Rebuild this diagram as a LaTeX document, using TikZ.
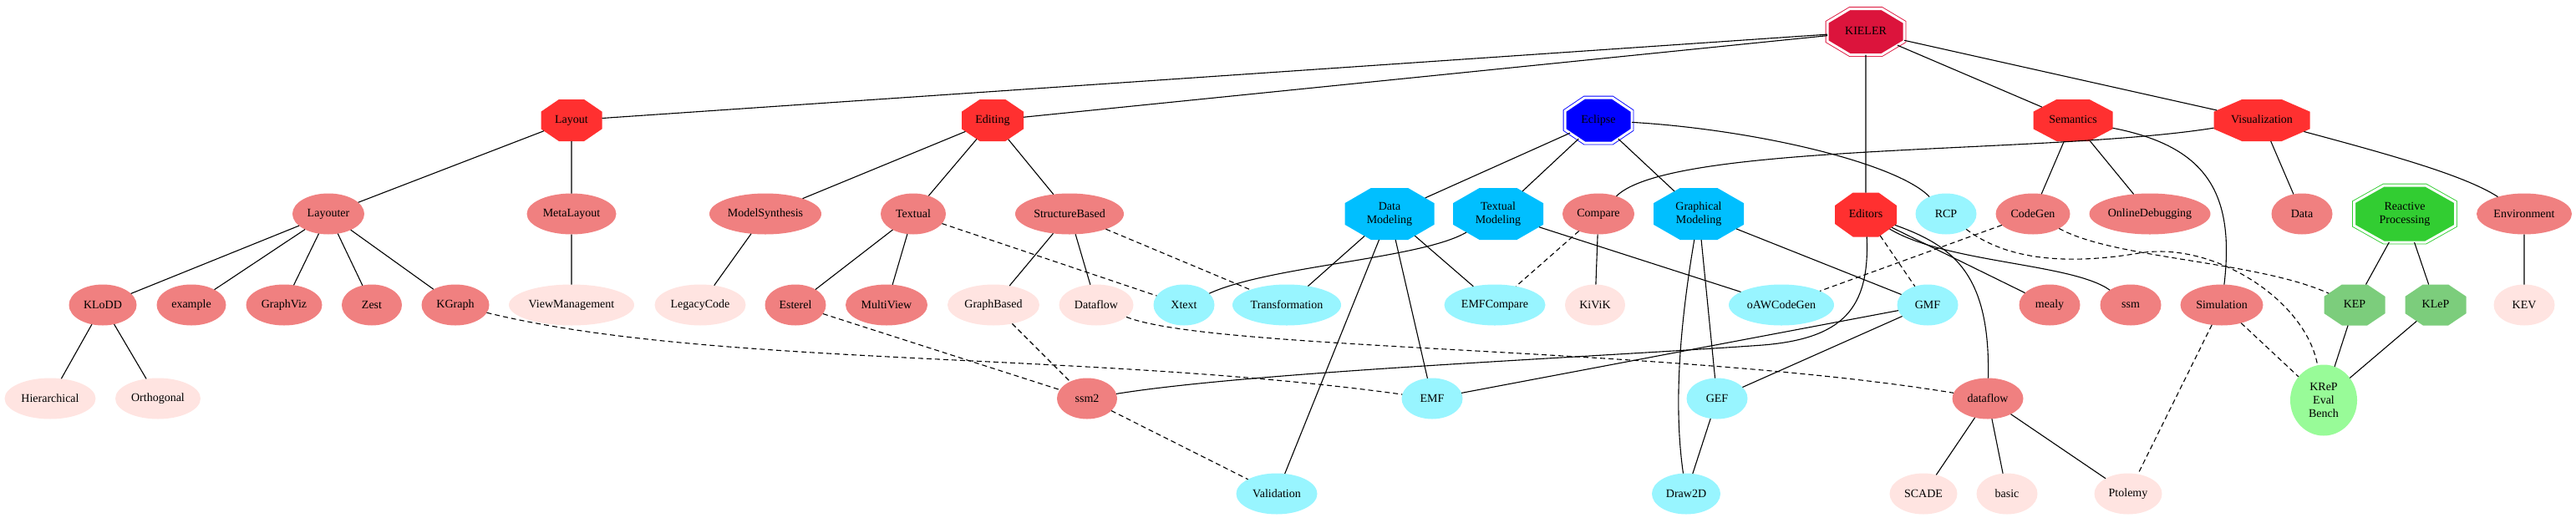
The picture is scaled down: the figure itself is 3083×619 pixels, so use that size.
\documentclass[tikz,border=0pt]{standalone}
\usepackage{fontspec}
\setmainfont{Liberation Serif}
\usetikzlibrary{shapes.geometric}
\definecolor{kred}{HTML}{FF3030}
\definecolor{kcrimson}{HTML}{DC143C}
\definecolor{kblue}{HTML}{0000FF}
\definecolor{ksky}{HTML}{00BFFF}
\definecolor{kcyan}{HTML}{98F5FF}
\definecolor{kcoral}{HTML}{F08080}
\definecolor{krose}{HTML}{FFE4E1}
\definecolor{klime}{HTML}{32CD32}
\definecolor{kgreen}{HTML}{7CCD7C}
\definecolor{kpale}{HTML}{98FB98}
\newcommand{\octtext}[1]{\scalebox{\octsq}[1]{\begin{tabular}{@{}c@{}}#1\end{tabular}}}
\tikzset{
	kbox/.style={inner sep=0pt, outer sep=0pt, minimum height=49pt, align=center, font=\fontsize{14}{16}\selectfont},
	ell/.style={kbox, ellipse, fill=#1},
	oct/.style={kbox, regular polygon, regular polygon sides=8, fill=#1},
	octsize/.style 2 args={minimum size={#2pt/0.9239}, xscale=#1/#2, /utils/exec={\pgfmathsetmacro\octsq{#2/#1}}},
	dbl/.style={oct=#1, draw=#1, line width=0.9pt, double=white, double distance=3pt},
	wd/.style={minimum width=#1pt},
	dep/.style={dash pattern=on 6pt off 4pt}
}
\begin{document}
\begin{tikzpicture}[x=1pt,y=-1pt,line width=1.1pt]
	\useasboundingbox (0,0) rectangle (3083,619);
	\node[dbl=kcrimson, octsize={92}{55}] (kieler) at (2233,38) {\octtext{KIELER}};
	\node[oct=kred, octsize={73}{50}] (layout) at (684,144) {\octtext{Layout}};
	\node[oct=kred, octsize={74}{50}] (editing) at (1188,144) {\octtext{Editing}};
	\node[dbl=kblue, octsize={80}{54}] (eclipse) at (1913,144) {\octtext{Eclipse}};
	\node[oct=kred, octsize={95}{50}] (semantics) at (2481,144) {\octtext{Semantics}};
	\node[oct=kred, octsize={115}{50}] (visualization) at (2707,144) {\octtext{Visualization}};
	\node[ell=kcoral, wd=86] (layouter) at (393,256) {Layouter};
	\node[ell=kcoral, wd=107] (metalayout) at (684,256) {MetaLayout};
	\node[ell=kcoral, wd=134] (modelsynthesis) at (916,256) {ModelSynthesis};
	\node[ell=kcoral, wd=78] (textual) at (1093,256) {Textual};
	\node[ell=kcoral, wd=130] (structurebased) at (1280,256) {StructureBased};
	\node[oct=ksky, octsize={107}{62}] (datamodeling) at (1663,256) {\octtext{Data\\Modeling}};
	\node[oct=ksky, octsize={108}{62}] (textualmodeling) at (1793,256) {\octtext{Textual\\Modeling}};
	\node[ell=kcoral, wd=86] (compare) at (1913,256) {Compare};
	\node[oct=ksky, octsize={108}{62}] (graphicalmodeling) at (2033,256) {\octtext{Graphical\\Modeling}};
	\node[oct=kred, octsize={74}{53}] (editors) at (2233,257) {\octtext{Editors}};
	\node[ell=kcyan, wd=73] (rcp) at (2329,256) {RCP};
	\node[ell=kcoral, wd=89] (codegen) at (2433,256) {CodeGen};
	\node[ell=kcoral, wd=145] (onlinedebugging) at (2573,256) {OnlineDebugging};
	\node[ell=kcoral, wd=73] (data) at (2755,256) {Data};
	\node[dbl=klime, octsize={121}{68}] (reactive) at (2878,256) {\octtext{Reactive\\Processing}};
	\node[ell=kcoral, wd=114] (environment) at (3021,256) {Environment};
	\node[ell=kcoral, wd=81] (klodd) at (123,365) {KLoDD};
	\node[ell=kcoral, wd=83] (example) at (229,365) {example};
	\node[ell=kcoral, wd=91] (graphviz) at (340,365) {GraphViz};
	\node[ell=kcoral, wd=72] (zest) at (445,365) {Zest};
	\node[ell=kcoral, wd=81] (kgraph) at (545,365) {KGraph};
	\node[ell=krose, wd=150] (viewmanagement) at (684,365) {ViewManagement};
	\node[ell=krose, wd=109] (legacycode) at (838,365) {LegacyCode};
	\node[ell=kcoral, wd=73] (esterel) at (952,365) {Esterel};
	\node[ell=kcoral, wd=98] (multiview) at (1061,365) {MultiView};
	\node[ell=krose, wd=110] (graphbased) at (1189,365) {GraphBased};
	\node[ell=krose, wd=89] (dataflowup) at (1312,365) {Dataflow};
	\node[ell=kcyan, wd=73] (xtext) at (1417,365) {Xtext};
	\node[ell=kcyan, wd=130] (transformation) at (1540,365) {Transformation};
	\node[ell=kcyan, wd=121] (emfcompare) at (1789,365) {EMFCompare};
	\node[ell=krose, wd=72] (kivik) at (1909,365) {KiViK};
	\node[ell=kcyan, wd=126] (oawcodegen) at (2132,365) {oAWCodeGen};
	\node[ell=kcyan, wd=73] (gmf) at (2307,365) {GMF};
	\node[ell=kcoral, wd=73] (mealy) at (2453,365) {mealy};
	\node[ell=kcoral, wd=73] (ssm) at (2550,365) {ssm};
	\node[ell=kcoral, wd=99] (simulation) at (2659,365) {Simulation};
	\node[oct=kgreen, octsize={73}{49}] (kep) at (2818,365) {\octtext{KEP}};
	\node[oct=kgreen, octsize={73}{49}] (klep) at (2915,365) {\octtext{KLeP}};
	\node[ell=krose, wd=73] (kev) at (3021,365) {KEV};
	\node[ell=krose, wd=109] (hierarchical) at (60,477) {Hierarchical};
	\node[ell=krose, wd=102] (orthogonal) at (189,477) {Orthogonal};
	\node[ell=kcoral, wd=72] (ssmtwo) at (1301,477) {ssm2};
	\node[ell=kcyan, wd=73] (emf) at (1714,477) {EMF};
	\node[ell=kcyan, wd=73] (gef) at (2055,477) {GEF};
	\node[ell=kcoral, wd=85] (dataflowlow) at (2379,477) {dataflow};
	\node[ell=kpale, wd=80, minimum height=85pt] (krep) at (2781,479) {KReP\\Eval\\Bench};
	\node[ell=kcyan, wd=97] (validation) at (1528,591) {Validation};
	\node[ell=kcyan, wd=82] (draw2d) at (2018,591) {Draw2D};
	\node[ell=krose, wd=81] (scade) at (2302,591) {SCADE};
	\node[ell=krose, wd=73] (basic) at (2402,591) {basic};
	\node[ell=krose, wd=81] (ptolemy) at (2547,591) {Ptolemy};
	\draw (kieler) -- (layout) (kieler) -- (editing) (kieler) -- (semantics) (kieler) -- (visualization) (kieler) -- (editors);
	\draw (layout) -- (layouter) (layout) -- (metalayout) (metalayout) -- (viewmanagement);
	\draw (layouter) -- (klodd) (layouter) -- (example) (layouter) -- (graphviz) (layouter) -- (zest) (layouter) -- (kgraph);
	\draw (klodd) -- (hierarchical) (klodd) -- (orthogonal);
	\draw (editing) -- (modelsynthesis) (editing) -- (textual) (editing) -- (structurebased) (modelsynthesis) -- (legacycode);
	\draw (textual) -- (esterel) (textual) -- (multiview) (structurebased) -- (graphbased) (structurebased) -- (dataflowup);
	\draw (eclipse) -- (datamodeling) (eclipse) -- (textualmodeling) (eclipse) -- (graphicalmodeling);
	\draw (eclipse) .. controls (2100,155) and (2270,195) .. (rcp);
	\draw (datamodeling) -- (transformation) (datamodeling) -- (emfcompare) (datamodeling) -- (emf) (datamodeling) -- (validation);
	\draw (xtext) .. controls (1520,318) and (1700,310) .. (textualmodeling);
	\draw (textualmodeling) -- (oawcodegen) (compare) -- (kivik);
	\draw (compare) .. controls (2000,170) and (2450,185) .. (visualization);
	\draw (graphicalmodeling) -- (gmf) (graphicalmodeling) -- (gef) (gef) -- (draw2d) (gmf) -- (gef) (gmf) -- (emf);
	\draw (graphicalmodeling) .. controls (2012,380) and (2002,480) .. (draw2d);
	\draw (editors) .. controls (2238,370) and (2205,405) .. (2110,413) .. controls (1900,428) and (1500,445) .. (ssmtwo);
	\draw (editors) .. controls (2340,295) and (2382,330) .. (dataflowlow);
	\draw (editors) -- (mealy);
	\draw (editors) .. controls (2330,315) and (2480,315) .. (ssm);
	\draw (semantics) -- (codegen) (semantics) -- (onlinedebugging);
	\draw (semantics) .. controls (2640,175) and (2675,230) .. (simulation);
	\draw (visualization) -- (data) (environment) -- (kev);
	\draw (visualization) .. controls (2860,185) and (2950,210) .. (environment);
	\draw (reactive) -- (kep) (reactive) -- (klep) (kep) -- (krep) (klep) -- (krep);
	\draw (dataflowlow) -- (scade) (dataflowlow) -- (basic) (dataflowlow) -- (ptolemy);
	\draw[dep] (textual) -- (xtext) (structurebased) -- (transformation) (esterel) -- (ssmtwo) (graphbased) -- (ssmtwo);
	\draw[dep] (ssmtwo) -- (validation) (compare) -- (emfcompare) (editors) -- (gmf) (codegen) -- (oawcodegen);
	\draw[dep] (simulation) -- (krep) (simulation) -- (ptolemy);
	\draw[dep] (kgraph) .. controls (850,440) and (1300,420) .. (emf);
	\draw[dep] (dataflowup) .. controls (1450,420) and (2000,415) .. (dataflowlow);
	\draw[dep] (rcp) .. controls (2400,310) and (2470,318) .. (2560,303) .. controls (2650,288) and (2760,360) .. (krep);
	\draw[dep] (codegen) .. controls (2530,310) and (2700,312) .. (kep);
\end{tikzpicture}
\end{document}
